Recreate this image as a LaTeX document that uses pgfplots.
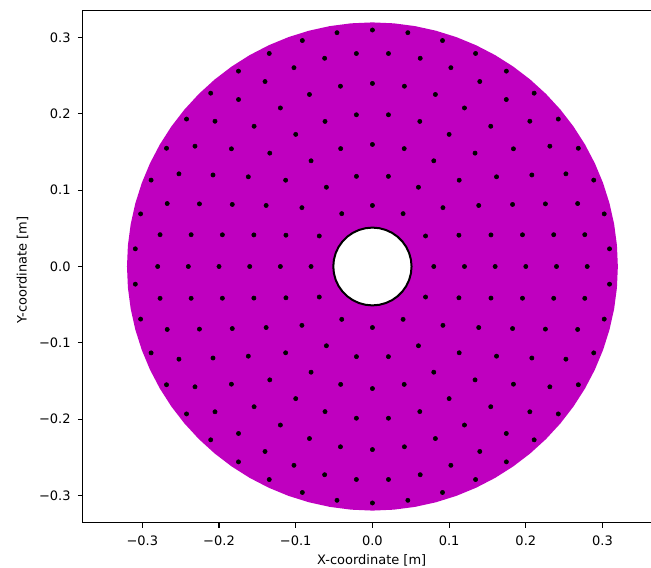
\documentclass[border=0pt]{standalone}
\usepackage{fontspec}
\setmainfont{DejaVu Sans}
\usepackage{pgfplots}
\pgfplotsset{compat=1.18}
\definecolor{diskmag}{HTML}{BF00BF}
\newcommand{\lblfont}{\fontsize{9.75}{11.7}\selectfont}

\begin{document}
\begin{tikzpicture}
\begin{axis}[
  scale only axis,
  width=426.15pt, height=384.45pt,
  xmin=-0.3776, xmax=0.3632,
  ymin=-0.336, ymax=0.336,
  axis x line*=box, axis y line*=left,
  tick pos=left, tick align=outside,
  major tick length=3.6pt,
  every tick/.style={black, line width=0.8pt},
  axis line style={black, line width=0.8pt},
  xtick={-0.3,-0.2,-0.1,0,0.1,0.2,0.3},
  xticklabels={−0.3,−0.2,−0.1,0.0,0.1,0.2,0.3},
  ytick={-0.3,-0.2,-0.1,0,0.1,0.2,0.3},
  yticklabels={−0.3,−0.2,−0.1,0.0,0.1,0.2,0.3},
  tick label style={font=\lblfont},
  xticklabel style={yshift=-2.3pt},
  yticklabel style={xshift=-2pt},
  every axis x label/.style={at={(axis description cs:0.5084,-0.0804)}, anchor=base, font=\lblfont},
  every axis y label/.style={at={(axis description cs:-0.0987,0.493)}, rotate=90, anchor=base, font=\lblfont},
  xlabel={X-coordinate [m]},
  ylabel={Y-coordinate [m]},
  clip=false,
  ringpt/.style={only marks, mark=*, mark size=1.6pt, black, mark options={fill=black, draw=black}, data cs=polar},
]
% disk (polar: angle in degrees, radius in m)
\addplot[no markers, draw=none, fill=diskmag, data cs=polar] coordinates {
(0,0.32) (5,0.32) (10,0.32) (15,0.32) (20,0.32) (25,0.32) (30,0.32) (35,0.32)
(40,0.32) (45,0.32) (50,0.32) (55,0.32) (60,0.32) (65,0.32) (70,0.32) (75,0.32)
(80,0.32) (85,0.32) (90,0.32) (95,0.32) (100,0.32) (105,0.32) (110,0.32) (115,0.32)
(120,0.32) (125,0.32) (130,0.32) (135,0.32) (140,0.32) (145,0.32) (150,0.32) (155,0.32)
(160,0.32) (165,0.32) (170,0.32) (175,0.32) (180,0.32) (185,0.32) (190,0.32) (195,0.32)
(200,0.32) (205,0.32) (210,0.32) (215,0.32) (220,0.32) (225,0.32) (230,0.32) (235,0.32)
(240,0.32) (245,0.32) (250,0.32) (255,0.32) (260,0.32) (265,0.32) (270,0.32) (275,0.32)
(280,0.32) (285,0.32) (290,0.32) (295,0.32) (300,0.32) (305,0.32) (310,0.32) (315,0.32)
(320,0.32) (325,0.32) (330,0.32) (335,0.32) (340,0.32) (345,0.32) (350,0.32) (355,0.32)
(360,0.32)
} -- cycle;
% hole
\addplot[no markers, draw=black, line width=1.5pt, fill=white, data cs=polar] coordinates {
(0,0.051) (10,0.051) (20,0.051) (30,0.051) (40,0.051) (50,0.051) (60,0.051) (70,0.051)
(80,0.051) (90,0.051) (100,0.051) (110,0.051) (120,0.051) (130,0.051) (140,0.051) (150,0.051)
(160,0.051) (170,0.051) (180,0.051) (190,0.051) (200,0.051) (210,0.051) (220,0.051) (230,0.051)
(240,0.051) (250,0.051) (260,0.051) (270,0.051) (280,0.051) (290,0.051) (300,0.051) (310,0.051)
(320,0.051) (330,0.051) (340,0.051) (350,0.051)
} -- cycle;
% points, ring by ring
\addplot[ringpt] coordinates {
(0,0.08) (30,0.08) (60,0.08) (90,0.08) (120,0.08) (150,0.08)
(180,0.08) (210,0.08) (240,0.08) (270,0.08) (300,0.08) (330,0.08)
};
\addplot[ringpt] coordinates {
(0,0.12) (20,0.12) (40,0.12) (60,0.12) (80,0.12) (100,0.12) (120,0.12) (140,0.12) (160,0.12)
(180,0.12) (200,0.12) (220,0.12) (240,0.12) (260,0.12) (280,0.12) (300,0.12) (320,0.12) (340,0.12)
};
\addplot[ringpt] coordinates {
(0,0.16) (15,0.16) (30,0.16) (45,0.16) (60,0.16) (75,0.16) (90,0.16) (105,0.16)
(120,0.16) (135,0.16) (150,0.16) (165,0.16) (180,0.16) (195,0.16) (210,0.16) (225,0.16)
(240,0.16) (255,0.16) (270,0.16) (285,0.16) (300,0.16) (315,0.16) (330,0.16) (345,0.16)
};
\addplot[ringpt] coordinates {
(0,0.20) (12,0.20) (24,0.20) (36,0.20) (48,0.20) (60,0.20) (72,0.20) (84,0.20) (96,0.20) (108,0.20)
(120,0.20) (132,0.20) (144,0.20) (156,0.20) (168,0.20) (180,0.20) (192,0.20) (204,0.20) (216,0.20) (228,0.20)
(240,0.20) (252,0.20) (264,0.20) (276,0.20) (288,0.20) (300,0.20) (312,0.20) (324,0.20) (336,0.20) (348,0.20)
};
\addplot[ringpt] coordinates {
(0,0.24) (10,0.24) (20,0.24) (30,0.24) (40,0.24) (50,0.24) (60,0.24) (70,0.24) (80,0.24)
(90,0.24) (100,0.24) (110,0.24) (120,0.24) (130,0.24) (140,0.24) (150,0.24) (160,0.24) (170,0.24)
(180,0.24) (190,0.24) (200,0.24) (210,0.24) (220,0.24) (230,0.24) (240,0.24) (250,0.24) (260,0.24)
(270,0.24) (280,0.24) (290,0.24) (300,0.24) (310,0.24) (320,0.24) (330,0.24) (340,0.24) (350,0.24)
};
\addplot[ringpt] coordinates {
(0,0.28) (8.571,0.28) (17.143,0.28) (25.714,0.28) (34.286,0.28) (42.857,0.28) (51.429,0.28)
(60,0.28) (68.571,0.28) (77.143,0.28) (85.714,0.28) (94.286,0.28) (102.857,0.28) (111.429,0.28)
(120,0.28) (128.571,0.28) (137.143,0.28) (145.714,0.28) (154.286,0.28) (162.857,0.28) (171.429,0.28)
(180,0.28) (188.571,0.28) (197.143,0.28) (205.714,0.28) (214.286,0.28) (222.857,0.28) (231.429,0.28)
(240,0.28) (248.571,0.28) (257.143,0.28) (265.714,0.28) (274.286,0.28) (282.857,0.28) (291.429,0.28)
(300,0.28) (308.571,0.28) (317.143,0.28) (325.714,0.28) (334.286,0.28) (342.857,0.28) (351.429,0.28)
};
\addplot[ringpt] coordinates {
(4.286,0.31) (12.857,0.31) (21.429,0.31) (30,0.31) (38.571,0.31) (47.143,0.31) (55.714,0.31)
(64.286,0.31) (72.857,0.31) (81.429,0.31) (90,0.31) (98.571,0.31) (107.143,0.31) (115.714,0.31)
(124.286,0.31) (132.857,0.31) (141.429,0.31) (150,0.31) (158.571,0.31) (167.143,0.31) (175.714,0.31)
(184.286,0.31) (192.857,0.31) (201.429,0.31) (210,0.31) (218.571,0.31) (227.143,0.31) (235.714,0.31)
(244.286,0.31) (252.857,0.31) (261.429,0.31) (270,0.31) (278.571,0.31) (287.143,0.31) (295.714,0.31)
(304.286,0.31) (312.857,0.31) (321.429,0.31) (330,0.31) (338.571,0.31) (347.143,0.31) (355.714,0.31)
};
\end{axis}
\pgfresetboundingbox
\path (current axis.south west) +(-62.1pt,-33.9pt) (current axis.north east) +(0pt,7.65pt);
\end{tikzpicture}
\end{document}
